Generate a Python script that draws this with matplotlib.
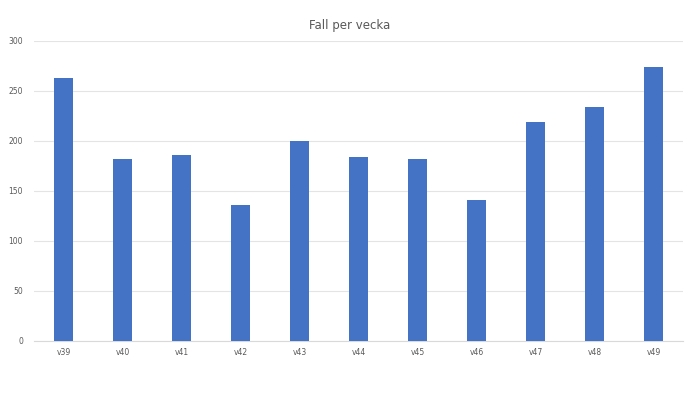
import numpy as np
import matplotlib.pyplot as plt

weeks = ['v39', 'v40', 'v41', 'v42', 'v43', 'v44', 'v45', 'v46', 'v47', 'v48', 'v49']
cases = [263, 182, 186, 136, 200, 184, 182, 141, 219, 234, 274]

fig = plt.figure(figsize=(7, 3.94), dpi=100)
ax = fig.add_axes([34/700, 53/394, 649/700, 300/394])

x = np.arange(len(weeks))
ax.bar(x, cases, width=0.32, color='#4472C4', zorder=3)

ax.set_xlim(-0.5, len(weeks) - 0.5)
ax.set_ylim(0, 300)
ax.set_yticks(np.arange(0, 301, 50))
ax.set_xticks(x)
ax.set_xticklabels(weeks)

ax.grid(axis='y', color='#E4E4E4', linewidth=0.8, zorder=0)
for s in ['top', 'right', 'left']:
    ax.spines[s].set_visible(False)
ax.spines['bottom'].set_color('#D9D9D9')
ax.spines['bottom'].set_linewidth(0.8)
ax.tick_params(axis='both', length=0, labelsize=5.5, colors='#595959')
ax.tick_params(axis='y', pad=8)
ax.tick_params(axis='x', pad=5)

fig.text(0.5, 1 - 25/394, 'Fall per vecka', ha='center', va='center',
         fontsize=8.5, color='#595959')

fig.savefig('out.png', dpi=100)
